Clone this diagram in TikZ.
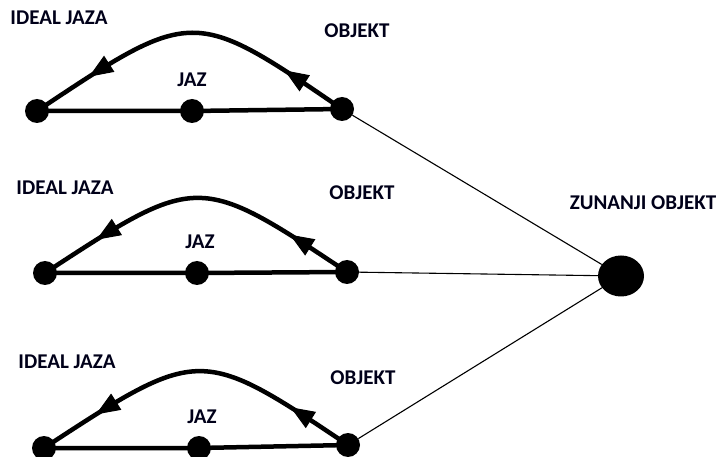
\documentclass[tikz,border=0pt]{standalone}
\usepackage{fontspec}
\setmainfont{Carlito}
\usetikzlibrary{arrows.meta,decorations.markings,shapes.geometric}
\tikzset{
  lbl/.style={font=\bfseries\fontsize{21}{23}\selectfont, inner sep=0pt, text=black!90!blue},
  dotn/.style={circle, fill=black, minimum size=24pt, inner sep=0pt},
  bigdot/.style={ellipse, fill=black, minimum width=46pt, minimum height=41pt, inner sep=0pt},
  base/.style={line width=4.5pt},
  thin/.style={line width=1.1pt},
  arrowtip/.style={},
  arcline/.style={line width=4.5pt,
    decoration={markings,
      mark=at position 0.2 with {\arrow[line width=1pt]{Triangle[length=24pt 0 0,width=19pt 0 0]}},
      mark=at position 0.82 with {\arrow[line width=1pt]{Triangle[length=24pt 0 0,width=19pt 0 0]}}},
    postaction={decorate}}
}
\begin{document}
\begin{tikzpicture}[x=1pt,y=-1pt]
\useasboundingbox (0,0) rectangle (718,457);
% group 1
\node[dotn] (l1) at (37,111) {};
\node[dotn] (m1) at (192,111) {};
\node[dotn] (r1) at (342,109) {};
\node[lbl] (i1) at (59,18) {IDEAL JAZA};
\node[lbl] (j1) at (192,80) {JAZ};
\node[lbl] (o1) at (357,31) {OBJEKT};
% group 2
\node[dotn] (l2) at (45,273) {};
\node[dotn] (m2) at (197,273) {};
\node[dotn] (r2) at (347,272) {};
\node[lbl] (i2) at (65,188) {IDEAL JAZA};
\node[lbl] (j2) at (200,242) {JAZ};
\node[lbl] (o2) at (362,193) {OBJEKT};
% group 3
\node[dotn] (l3) at (44,448) {};
\node[dotn] (m3) at (199,448) {};
\node[dotn] (r3) at (348,445) {};
\node[lbl] (i3) at (67,362) {IDEAL JAZA};
\node[lbl] (j3) at (202,417) {JAZ};
\node[lbl] (o3) at (363,378) {OBJEKT};
% external object
\node[bigdot] (z) at (621,276) {};
\node[lbl] (zl) at (643,203) {ZUNANJI OBJEKT};
% base lines
\draw[base] (l1.center) -- (m1.center) -- (r1.center);
\draw[base] (l2.center) -- (m2.center) -- (r2.center);
\draw[base] (l3.center) -- (m3.center) -- (r3.center);
% arcs
\draw[arcline] (r1.center) .. controls (193,7) .. (l1.center);
\draw[arcline] (r2.center) .. controls (198,173) .. (l2.center);
\draw[arcline] (r3.center) .. controls (200,346) .. (l3.center);
% connectors
\draw[thin] (r1) -- (z);
\draw[thin] (r2) -- (z);
\draw[thin] (r3) -- (z);
\end{tikzpicture}
\end{document}
